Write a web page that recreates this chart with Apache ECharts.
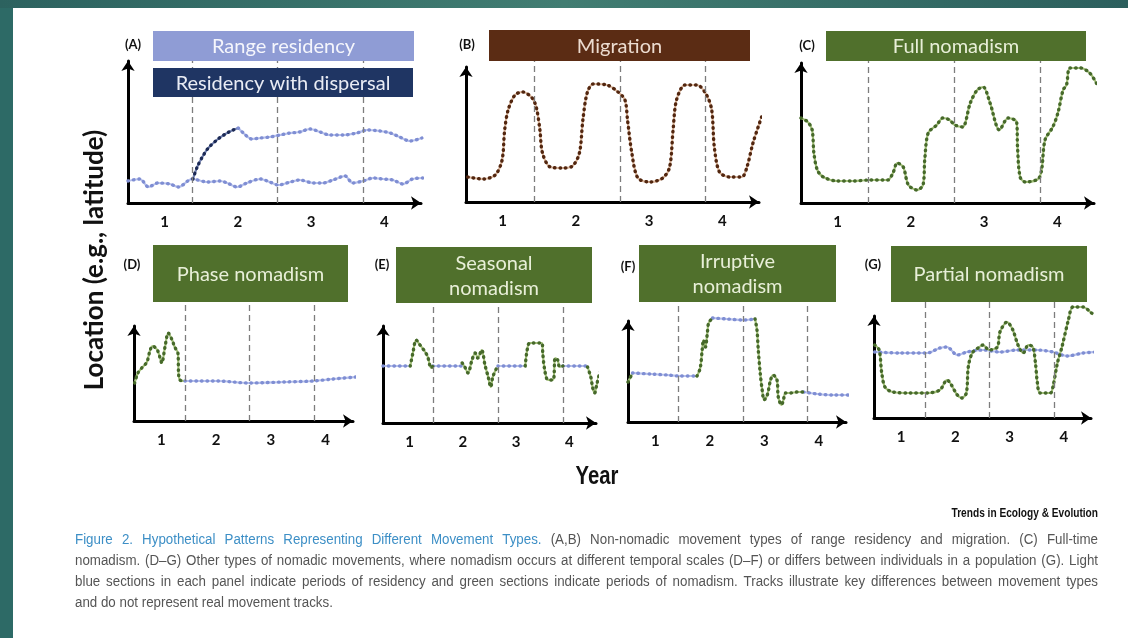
<!DOCTYPE html>
<html><head><meta charset="utf-8">
<script src="https://cdn.jsdelivr.net/npm/echarts@6/dist/echarts.min.js"></script>
<style>html,body{margin:0;padding:0;background:#fff}#c{width:1128px;height:638px}</style>
</head><body><div id="c"></div><script>
// ---------------- data (x = time in years, dashed year boundaries at 1,2,3; y = relative location) ----------------
const yearLabels = ['1', '2', '3', '4'];
const yearBounds = [1, 2, 3];

const aRange = [[0.25,22],[0.39,24],[0.49,16],[0.60,20],[0.74,19],[0.84,16],[1.00,24],[1.18,21],[1.33,22],[1.41,20],[1.53,16],[1.64,20],[1.80,24],[1.91,21],[2.01,18],[2.15,21],[2.26,23],[2.42,20],[2.53,20],[2.65,23],[2.79,27],[2.88,20],[3.00,22],[3.12,25],[3.23,24],[3.35,23],[3.47,19],[3.58,24],[3.70,25]];
const aDispersal = [[1.01,24],[1.06,36],[1.12,46],[1.19,55],[1.29,63],[1.39,69],[1.48,73],[1.54,75]];
const aSettled = [[1.54,75],[1.60,70],[1.70,64],[1.80,65],[1.91,66],[2.03,68],[2.15,70],[2.26,71],[2.38,74],[2.50,71],[2.61,68],[2.77,68],[2.93,70],[3.05,73],[3.20,72],[3.32,70],[3.43,66],[3.55,62],[3.69,65]];

const bMigration = [[0.23,25],[0.41,23],[0.55,27],[0.63,42],[0.66,72],[0.70,92],[0.78,107],[0.87,110],[0.98,104],[1.03,94],[1.07,72],[1.10,49],[1.19,35],[1.34,34],[1.45,36],[1.53,49],[1.57,82],[1.62,109],[1.69,118],[1.85,117],[1.98,110],[2.06,102],[2.09,82],[2.14,49],[2.21,24],[2.35,20],[2.50,24],[2.58,35],[2.62,72],[2.66,102],[2.76,117],[2.90,117],[3.01,107],[3.07,92],[3.10,55],[3.16,30],[3.28,25],[3.42,25],[3.48,35],[3.55,59],[3.65,85]];

const cNomad = [[0.22,85],[0.30,81],[0.35,73],[0.37,50],[0.41,33],[0.48,26],[0.64,22],[0.83,22],[1.02,23],[1.23,23],[1.29,30],[1.34,40],[1.41,36],[1.47,18],[1.57,13],[1.64,18],[1.66,43],[1.70,70],[1.80,78],[1.87,85],[1.95,83],[2.01,78],[2.10,76],[2.19,100],[2.27,113],[2.34,116],[2.42,100],[2.53,73],[2.63,85],[2.73,81],[2.74,56],[2.77,26],[2.83,21],[2.98,24],[3.02,33],[3.06,63],[3.15,76],[3.21,90],[3.27,113],[3.31,118],[3.35,135],[3.47,135],[3.58,130],[3.67,118]];

const dNomad = [[0.22,38],[0.27,48],[0.33,53],[0.41,59],[0.46,71],[0.50,75],[0.57,71],[0.61,64],[0.64,58],[0.69,74],[0.74,88],[0.80,81],[0.84,74],[0.89,68],[0.90,48],[0.92,41],[1.00,40]];
const dResident = [[1.00,40],[1.50,40],[1.99,38],[2.52,39],[2.98,40],[3.29,42],[3.64,44]];

const eResident = [[0.23,57],[0.65,57],[0.66,null],[1.00,57],[1.45,57],[1.46,null],[2.00,57],[2.42,57],[2.43,null],[3.00,57],[3.38,57]];
const eNomad = [[0.65,57],[0.69,70],[0.74,83],[0.80,78],[0.88,71],[0.92,66],[0.97,55],[1.00,57],[1.01,null],
  [1.45,60],[1.49,56],[1.54,50],[1.60,63],[1.65,70],[1.69,65],[1.75,73],[1.80,58],[1.85,46],[1.89,36],[1.92,46],[1.98,55],[1.99,null],
  [2.42,57],[2.45,73],[2.49,80],[2.68,80],[2.69,70],[2.72,53],[2.77,43],[2.85,43],[2.88,65],[2.92,63],[2.95,56],[3.00,57],[3.01,null],
  [3.38,56],[3.43,46],[3.46,35],[3.49,30],[3.52,38],[3.57,50],[3.62,55]];

const fResident = [[0.29,49],[0.57,48],[0.83,47],[1.03,46],[1.29,46],[1.30,null],[1.53,104],[1.76,103],[2.01,102],[2.19,103],[2.20,null],[2.94,30],[3.16,28],[3.40,27],[3.67,27]];
const fNomad = [[0.22,40],[0.29,49],[0.30,null],
  [1.29,46],[1.34,54],[1.37,72],[1.39,82],[1.42,75],[1.45,89],[1.47,99],[1.53,104],[1.54,null],
  [2.19,103],[2.22,92],[2.24,72],[2.27,49],[2.30,32],[2.33,22],[2.38,27],[2.43,42],[2.47,47],[2.53,42],[2.55,25],[2.60,17],[2.63,22],[2.66,29],[2.74,29],[2.84,30],[2.94,30]];

const gResident = [[0.22,66],[0.61,65],[1.03,65],[1.23,70],[1.34,71],[1.50,63],[1.65,66],[1.90,68],[2.16,66],[2.43,68],[2.74,68],[2.98,66],[3.20,62],[3.45,65],[3.67,66]];
const gNomad = [[0.22,73],[0.29,68],[0.33,45],[0.38,31],[0.50,26],[0.77,25],[1.03,25],[1.23,28],[1.34,38],[1.39,35],[1.50,23],[1.57,20],[1.64,25],[1.67,51],[1.73,65],[1.82,70],[1.90,73],[1.99,68],[2.12,71],[2.16,86],[2.27,96],[2.36,88],[2.44,73],[2.52,65],[2.60,73],[2.67,71],[2.71,55],[2.74,35],[2.78,25],[2.94,25],[2.98,31],[3.05,55],[3.12,71],[3.22,98],[3.29,111],[3.45,111],[3.56,106],[3.67,100]];

const headerTexts = ['Range residency', 'Residency with dispersal', 'Migration', 'Full nomadism', 'Phase nomadism', 'Seasonal\nnomadism', 'Irruptive\nnomadism', 'Partial nomadism'];
const panelTags = ['(A)', '(B)', '(C)', '(D)', '(E)', '(F)', '(G)'];
const yTitle = 'Location (e.g., latitude)';
const xTitle = 'Year';
const sourceText = 'Trends in Ecology & Evolution';
const captionLines = [
  [{text: 'Figure 2. Hypothetical Patterns Representing Different Movement Types.', hl: true}, {text: '(A,B) Non-nomadic movement types of range residency and migration. (C) Full-time'}],
  [{text: 'nomadism. (D–G) Other types of nomadic movements, where nomadism occurs at different temporal scales (D–F) or differs between individuals in a population (G). Light'}],
  [{text: 'blue sections in each panel indicate periods of residency and green sections indicate periods of nomadism. Tracks illustrate key differences between movement types'}],
  [{text: 'and do not represent real movement tracks.'}]
];

// ---------------- layout & styles ----------------
const COL = {
  blue:  {line: '#b7c1ec', dot: '#7f8ed3'},
  navy:  {line: '#7483b2', dot: '#1c2a55'},
  brown: {line: '#dcb89e', dot: '#52260f'},
  green: {line: '#a4c17b', dot: '#46692a'}
};
const panels = [
  {grid: [128, 61, 293, 142], guide: [61, 142], xr: [0.25, 3.68], tracks: [[aRange, 'blue'], [aSettled, 'blue'], [aDispersal, 'navy']]},
  {grid: [466, 67, 293, 135], guide: [61, 141], xr: [0.21, 3.62], tracks: [[bMigration, 'brown']]},
  {grid: [801, 63, 293, 140], guide: [61, 142], xr: [0.22, 3.63], tracks: [[cNomad, 'green']]},
  {grid: [134, 326, 219, 95], guide: [302, 119], xr: [0.21, 3.60], tracks: [[dResident, 'blue'], [dNomad, 'green']]},
  {grid: [383, 326, 213, 97], guide: [303, 120], xr: [0.23, 3.51], tracks: [[eResident, 'blue'], [eNomad, 'green']]},
  {grid: [628, 321, 218, 101], guide: [302, 120], xr: [0.22, 3.60], tracks: [[fResident, 'blue'], [fNomad, 'green']]},
  {grid: [874, 316, 217, 102], guide: [302, 116], xr: [0.21, 3.57], tracks: [[gResident, 'blue'], [gNomad, 'green']]}
];
const headerBoxes = [
  {r: [153, 31, 261, 30], fill: '#8f9cd5', tc: '#f5f6fc'},
  {r: [153, 68, 260, 29], fill: '#1f3563', tc: '#e9ecf4'},
  {r: [489, 30, 261, 31], fill: '#5b2c14', tc: '#ecdcd0'},
  {r: [826, 31, 260, 30], fill: '#50702c', tc: '#e8efd8'},
  {r: [153, 245, 195, 57], fill: '#50702c', tc: '#e8efd8'},
  {r: [396, 247, 196, 56], fill: '#50702c', tc: '#e8efd8'},
  {r: [639, 245, 197, 57], fill: '#50702c', tc: '#e8efd8'},
  {r: [891, 246, 196, 56], fill: '#50702c', tc: '#e8efd8'}
];
const tagPos = [[133, 45], [467, 45], [807, 46], [132, 265], [382, 265], [628, 267], [873, 265]];

const calFam = 'Lato, "Open Sans", sans-serif';
const sansFam = '"Liberation Sans", Arial, sans-serif';
const condense = 0.86;

// ---------------- build options ----------------
const grids = [], xAxes = [], yAxes = [], series = [];
const axisLineStyle = {show: true, onZero: false, lineStyle: {color: '#000', width: 3}, symbol: ['none', 'arrow'], symbolSize: [10, 10]};
panels.forEach((p, i) => {
  const [l, t, w, h] = p.grid;
  grids.push({left: l, top: t, width: w, height: h});
  grids.push({left: l, top: p.guide[0], width: w, height: p.guide[1]});
  xAxes.push({gridIndex: 2 * i, type: 'value', position: 'bottom', min: p.xr[0], max: p.xr[1], axisLine: axisLineStyle, axisTick: {show: false}, axisLabel: {show: false}, splitLine: {show: false}});
  xAxes.push({gridIndex: 2 * i, type: 'category', position: 'bottom', data: yearLabels, axisLine: {show: false}, axisTick: {show: false}, splitLine: {show: false},
    axisLabel: {fontSize: 15, fontWeight: 'bold', color: '#111', margin: 12, fontFamily: calFam}});
  xAxes.push({gridIndex: 2 * i + 1, type: 'value', min: p.xr[0], max: p.xr[1], show: false});
  yAxes.push({gridIndex: 2 * i, type: 'value', min: 0, max: h, axisLine: axisLineStyle, axisTick: {show: false}, axisLabel: {show: false}, splitLine: {show: false}});
  yAxes.push({gridIndex: 2 * i + 1, type: 'value', min: 0, max: 1, show: false});
  series.push({type: 'line', xAxisIndex: 3 * i + 2, yAxisIndex: 2 * i + 1, data: [[p.xr[0], 0]], showSymbol: false, silent: true, lineStyle: {opacity: 0}, z: 1,
    markLine: {silent: true, symbol: ['none', 'none'], label: {show: false}, lineStyle: {type: [6, 4], color: '#7d7d7d', width: 1.3}, data: yearBounds.map(v => ({xAxis: v}))}});
  p.tracks.forEach(([data, col]) => {
    const base = {type: 'line', xAxisIndex: 3 * i, yAxisIndex: 2 * i, data: data, showSymbol: false, smooth: 0.3, clip: false, connectNulls: false, silent: true};
    series.push(Object.assign({}, base, {lineStyle: {color: COL[col].line, width: 2.2}, z: 3}));
    series.push(Object.assign({}, base, {lineStyle: {color: COL[col].dot, width: 3.4, type: [0.5, 5], cap: 'round'}, z: 4}));
  });
});

const graphics = [];
// frame
graphics.push({type: 'rect', shape: {x: 0, y: 0, width: 13, height: 638}, style: {fill: '#2d6a66'}, silent: true});
graphics.push({type: 'rect', shape: {x: 0, y: 0, width: 1128, height: 8}, silent: true,
  style: {fill: {type: 'linear', x: 0, y: 0, x2: 1, y2: 0, colorStops: [{offset: 0, color: '#2c625f'}, {offset: 0.5, color: '#417d72'}, {offset: 1, color: '#2c5f5d'}]}}});
// headers
headerBoxes.forEach((b, i) => {
  const [x, y, w, h] = b.r;
  graphics.push({type: 'rect', z: 50, shape: {x, y, width: w, height: h}, style: {fill: b.fill}, silent: true});
  graphics.push({type: 'text', z: 51, x: x + w / 2, y: y + h / 2 + 1, silent: true,
    style: {text: headerTexts[i], fill: b.tc, font: '20px ' + calFam, align: 'center', verticalAlign: 'middle', lineHeight: 25}});
});
panelTags.forEach((t, i) => {
  graphics.push({type: 'text', z: 51, x: tagPos[i][0], y: tagPos[i][1], silent: true,
    style: {text: t, fill: '#111', font: 'bold 13px ' + calFam, align: 'center', verticalAlign: 'middle'}});
});
graphics.push({type: 'text', x: 95, y: 260, rotation: Math.PI / 2, silent: true,
  style: {text: yTitle, fill: '#111', font: 'bold 26px ' + calFam, align: 'center', verticalAlign: 'middle'}});
graphics.push({type: 'text', x: 597, y: 477, scaleX: 0.78, silent: true,
  style: {text: xTitle, fill: '#111', font: 'bold 26px ' + sansFam, align: 'center', verticalAlign: 'middle'}});
graphics.push({type: 'text', x: 1098, y: 513, scaleX: 0.78, silent: true,
  style: {text: sourceText, fill: '#111', font: 'bold 13px ' + sansFam, align: 'right', verticalAlign: 'middle'}});

// caption, condensed and justified word by word
(function () {
  const cv = document.createElement('canvas').getContext('2d');
  const x0 = 75, x1 = 1098, W = x1 - x0, yStart = 540, dy = 21;
  const lines = captionLines.map(segs => {
    const words = [];
    segs.forEach(s => s.text.split(' ').forEach(w => { if (w) words.push({w, hl: !!s.hl}); }));
    return words;
  });
  const natural = (words, font) => { cv.font = font; return condense * (words.reduce((a, wd) => a + cv.measureText(wd.w).width, 0) + (words.length - 1) * cv.measureText(' ').width); };
  let fs = 15.5;
  while (fs > 9 && Math.max(...lines.map(l => natural(l, fs + 'px ' + sansFam))) > W - 6) fs -= 0.25;
  const font = fs + 'px ' + sansFam;
  cv.font = font;
  const sp = cv.measureText(' ').width * condense;
  lines.forEach((words, li) => {
    const y = yStart + li * dy;
    const ww = words.map(wd => cv.measureText(wd.w).width * condense);
    const total = ww.reduce((a, b) => a + b, 0);
    const gap = li < lines.length - 1 ? (W - total) / (words.length - 1) : sp;
    let x = x0;
    words.forEach((wd, k) => {
      graphics.push({type: 'text', x, y, scaleX: condense, silent: true, style: {text: wd.w, font, fill: wd.hl ? '#3d8fc6' : '#555555', verticalAlign: 'middle'}});
      x += ww[k] + gap;
    });
  });
})();

const chart = echarts.init(document.getElementById('c'), null, {renderer: 'canvas'});
chart.setOption({
  backgroundColor: '#ffffff',
  animation: false,
  grid: grids,
  xAxis: xAxes,
  yAxis: yAxes,
  series: series,
  graphic: {elements: graphics}
});
</script></body></html>
